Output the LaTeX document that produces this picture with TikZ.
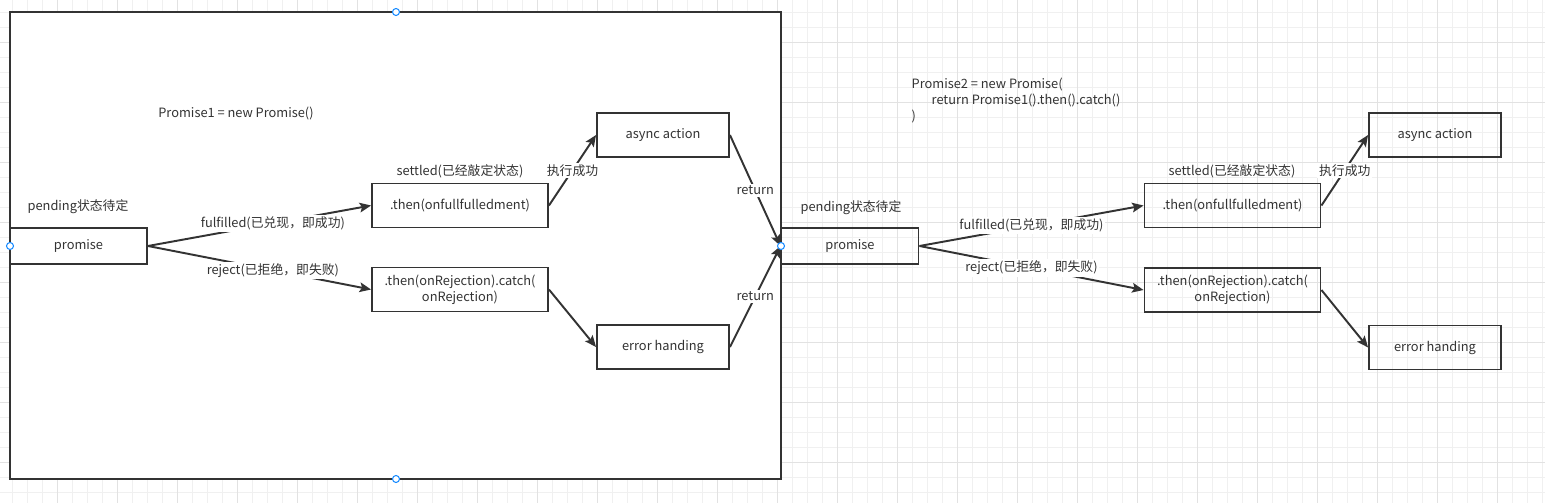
\documentclass[tikz,border=0pt]{standalone}
\usepackage{fontspec}
\setmainfont{Noto Sans CJK SC}
\usetikzlibrary{arrows.meta,positioning}
\definecolor{ink}{HTML}{333333}
\definecolor{gridminor}{HTML}{F0F0F0}
\definecolor{gridmajor}{HTML}{E2E2E2}
\definecolor{handle}{HTML}{1A8CFF}
\tikzset{every picture/.style={line width=0.75pt}}
\tikzset{
  box/.style={draw=ink, line width=1.1pt, text=ink, minimum height=0.88cm, align=center, inner sep=1pt},
  flow/.style={draw=ink, line width=1.1pt, -{Stealth[length=6.5pt,width=5.5pt,inset=1.3pt]}},
  tag/.style={text=ink, fill=white, inner sep=1pt},
  txt/.style={text=ink, align=left, inner sep=0pt},
  grip/.style={circle, draw=handle, fill=white, line width=0.6pt, inner sep=0pt, minimum size=0.14cm},
}

\begin{document}
\begin{tikzpicture}[x=0.02cm, y=-0.02cm, font=\fontsize{7.3}{9.1}\selectfont]
    \useasboundingbox (0,0) rectangle (1545,503);

    % 背景网格
    \foreach \x in {12,27,...,1545} \draw[gridminor, line width=0.55pt] (\x,0) -- (\x,503);
    \foreach \y in {12,27,...,503} \draw[gridminor, line width=0.55pt] (0,\y) -- (1545,\y);
    \foreach \x in {57,117,...,1545} \draw[gridmajor, line width=0.55pt] (\x,0) -- (\x,503);
    \foreach \y in {42,102,...,503} \draw[gridmajor, line width=0.55pt] (0,\y) -- (1545,\y);

    % 外框 (Promise1)
    \draw[ink, line width=1.1pt, fill=white] (10,12) rectangle (781,479);

    % Promise1 的各个状态
    \node[txt] (title1) at (236,114) {Promise1 = new Promise()};
    \node[txt] (pend1) at (78,207) {pending状态待定};
    \node[txt] (settle1) at (460,171) {settled(已经敲定状态)};
    \node[box, minimum width=2.74cm, minimum height=0.72cm] (p1) at (78.5,246) {promise};
    \node[box, minimum width=3.52cm] (then1) at (460,205.5) {.then(onfullfulledment)};
    \node[box, minimum width=3.52cm] (catch1) at (460,289.5) {.then(onRejection).catch(\\onRejection)};
    \node[box, minimum width=2.64cm] (async1) at (663,135) {async action};
    \node[box, minimum width=2.64cm] (err1) at (663,347) {error handing};

    % Promise2 的各个状态
    \node[txt, anchor=north west] (title2) at (911,77) {Promise2 = new Promise(\\\hspace*{0.4cm}return Promise1().then().catch()\\)};
    \node[txt] (pend2) at (851,208) {pending状态待定};
    \node[txt] (settle2) at (1232,171) {settled(已经敲定状态)};
    \node[box, minimum width=2.74cm, minimum height=0.72cm] (p2) at (850,246) {promise};
    \node[box, minimum width=3.52cm] (then2) at (1232.5,205.5) {.then(onfullfulledment)};
    \node[box, minimum width=3.52cm] (catch2) at (1232.5,290) {.then(onRejection).catch(\\onRejection)};
    \node[box, minimum width=2.64cm] (async2) at (1435,135) {async action};
    \node[box, minimum width=2.64cm] (err2) at (1435,347.5) {error handing};

    % 连线
    \draw[flow] (p1.east) -- node[tag, pos=0.56] {fulfilled(已兑现，即成功)} (then1.west);
    \draw[flow] (p1.east) -- node[tag, pos=0.56] {reject(已拒绝，即失败)} (catch1.west);
    \draw[flow] (then1.east) -- node[tag] {执行成功} (async1.west);
    \draw[flow] (catch1.east) -- (err1.west);
    \draw[flow] (async1.east) -- node[tag] {return} (p2.west);
    \draw[flow] (err1.east) -- node[tag] {return} (p2.west);

    \draw[flow] (p2.east) -- node[tag, pos=0.5] {fulfilled(已兑现，即成功)} (then2.west);
    \draw[flow] (p2.east) -- node[tag, pos=0.5] {reject(已拒绝，即失败)} (catch2.west);
    \draw[flow] (then2.east) -- node[tag] {执行成功} (async2.west);
    \draw[flow] (catch2.east) -- (err2.west);

    % 选中手柄
    \node[grip] (gtop) at (396,12) {};
    \node[grip] (gbot) at (396,479) {};
    \node[grip] (gleft) at (10,246) {};
    \node[grip] (gright) at (781,246) {};
\end{tikzpicture}
\end{document}
